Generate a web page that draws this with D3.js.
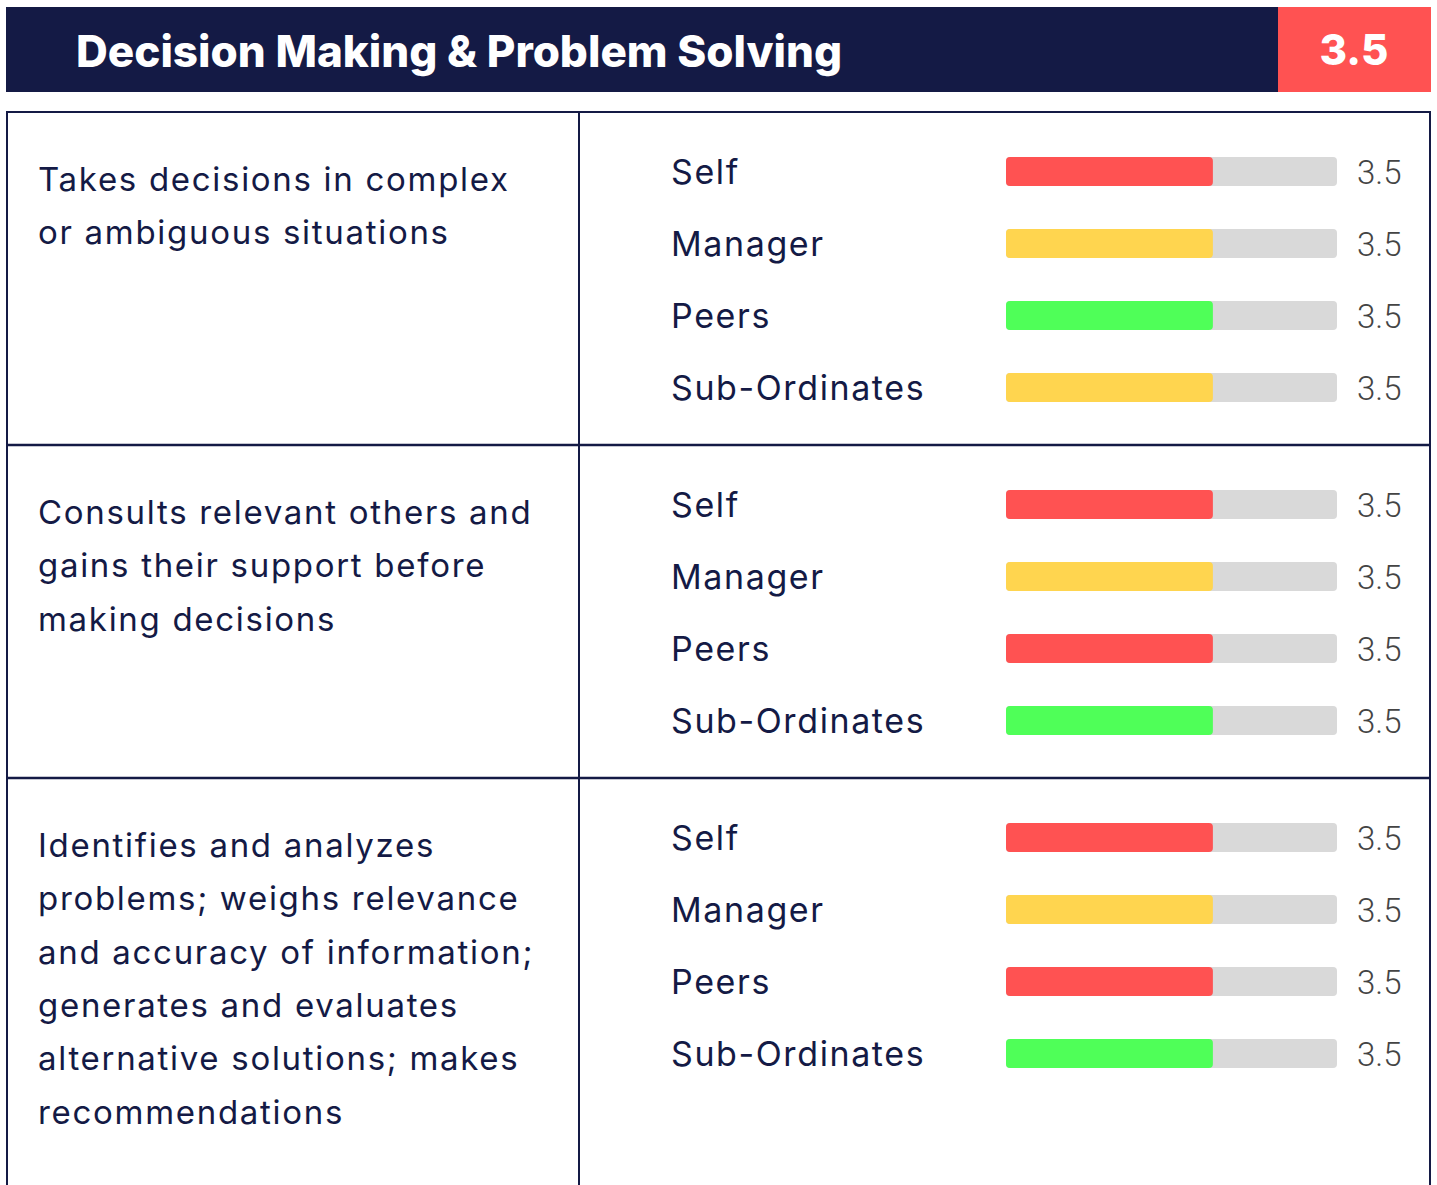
<!DOCTYPE html>
<html>
<head>
<meta charset="utf-8">
<script src="https://cdn.jsdelivr.net/npm/d3@7"></script>
<style>
  html, body { margin: 0; padding: 0; background: #fff; }
  svg { display: block; }
</style>
</head>
<body>
<div id="chart"></div>
<script>
// data
const title = "Decision Making & Problem Solving";
const overallScore = "3.5";
const statements = [
    ["Takes decisions in complex", "or ambiguous situations"],
    ["Consults relevant others and", "gains their support before", "making decisions"],
    ["Identifies and analyzes", "problems; weighs relevance", "and accuracy of information;", "generates and evaluates", "alternative solutions; makes", "recommendations"]
];
const raters = ["Self", "Manager", "Peers", "Sub-Ordinates"];
const scores = [
    [3.5, 3.5, 3.5, 3.5],
    [3.5, 3.5, 3.5, 3.5],
    [3.5, 3.5, 3.5, 3.5]
];
const barColors = [
    ["red", "yellow", "green", "yellow"],
    ["red", "yellow", "red", "green"],
    ["red", "yellow", "red", "green"]
];
const scaleMax = 5.6;

const W = 1437, H = 1185;
const navy = "#141a45";
const palette = {red: "#ff5252", yellow: "#ffd54f", green: "#4fff58"};

const svg = d3.select("#chart").append("svg")
    .attr("width", W)
    .attr("height", H);

//header
svg.append("rect")
    .attr("x", 6).attr("y", 7)
    .attr("width", 1272).attr("height", 85)
    .attr("fill", navy);
svg.append("rect")
    .attr("x", 1278).attr("y", 7)
    .attr("width", 153).attr("height", 85)
    .attr("fill", palette.red);
svg.append("text")
    .attr("x", 76).attr("y", 67)
    .attr("fill", "#fff")
    .style("font-family", "Inter, 'DejaVu Sans', sans-serif")
    .style("font-weight", 800)
    .style("font-size", "44px")
    .text(title);
svg.append("text")
    .attr("x", 1354).attr("y", 65)
    .attr("text-anchor", "middle")
    .attr("fill", "#fff")
    .style("font-family", "Inter, 'DejaVu Sans', sans-serif")
    .style("font-weight", 800)
    .style("font-size", "42px")
    .text(overallScore);

// table layout
const rowTop = [112, 445, 778];
const tableLeft = 7, tableRight = 1430, colSplit = 579;

const x = d3.scaleLinear()
    .domain([0, scaleMax])
    .range([1006, 1337]);

const y = d3.scaleBand()
    .domain(raters)
    .range([0, 288])
    .paddingInner(0.6)
    .paddingOuter(0.3);

const rows = svg.selectAll(".row")
    .data(statements)
    .enter().append("g")
    .attr("class", "row")
    .attr("transform", (d, i) => "translate(0," + rowTop[i] + ")");

rows.append("text")
    .attr("class", "statement")
    .attr("fill", navy)
    .style("font-family", "Inter, 'Noto Sans', sans-serif")
    .style("font-size", "33px")
    .style("letter-spacing", "1.7px")
    .selectAll("tspan")
    .data(d => d)
    .enter().append("tspan")
    .attr("x", 38)
    .attr("y", (d, i) => 79 + i * 53.3)
    .text(d => d);

rows.each(function(d, ri){
    const g = d3.select(this).append("g")
        .attr("transform", "translate(0,23.5)");
    const items = raters.map((r, k) => ({rater: r, score: scores[ri][k], color: barColors[ri][k]}));

    const item = g.selectAll(".item")
        .data(items)
        .enter().append("g")
        .attr("class", "item")
        .attr("transform", d => "translate(0," + y(d.rater) + ")");

    item.append("text")
        .attr("x", 671)
        .attr("y", y.bandwidth() / 2 + 12)
        .attr("fill", navy)
        .style("font-family", "Inter, 'Noto Sans', sans-serif")
        .style("font-size", "34px")
        .style("letter-spacing", "1.6px")
        .text(d => d.rater);

    item.append("rect")
        .attr("x", x(0))
        .attr("width", x(scaleMax) - x(0))
        .attr("height", y.bandwidth())
        .attr("rx", 4)
        .attr("fill", "#d9d9d9");

    item.append("rect")
        .attr("x", x(0))
        .attr("width", d => x(d.score) - x(0))
        .attr("height", y.bandwidth())
        .attr("rx", 4)
        .attr("fill", d => palette[d.color]);

    item.append("text")
        .attr("x", 1357)
        .attr("y", y.bandwidth() / 2 + 12)
        .attr("fill", "#444")
        .style("font-family", "Roboto, 'Liberation Sans', sans-serif")
        .style("font-weight", 300)
        .style("font-size", "33px")
        .text(d => d.score);
});

// grid lines of the table
svg.append("rect")
    .attr("x", tableLeft).attr("y", rowTop[0])
    .attr("width", tableRight - tableLeft)
    .attr("height", 1200)
    .attr("fill", "none")
    .attr("stroke", navy)
    .attr("stroke-width", 2);
svg.selectAll(".hline")
    .data(rowTop.slice(1))
    .enter().append("line")
    .attr("class", "hline")
    .attr("x1", tableLeft).attr("x2", tableRight)
    .attr("y1", d => d).attr("y2", d => d)
    .attr("stroke", navy)
    .attr("stroke-width", 2.5);
svg.append("line")
    .attr("x1", colSplit).attr("x2", colSplit)
    .attr("y1", rowTop[0]).attr("y2", H)
    .attr("stroke", navy)
    .attr("stroke-width", 2);
</script>
</body>
</html>
